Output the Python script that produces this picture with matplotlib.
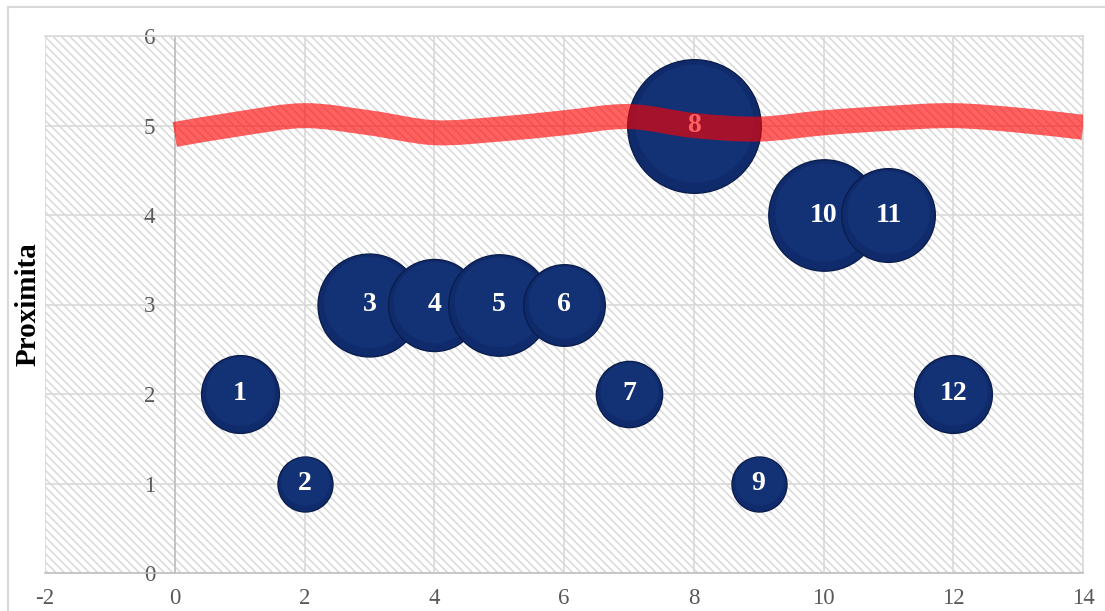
import numpy as np
import matplotlib
matplotlib.use("Agg")
import matplotlib.pyplot as plt
from matplotlib.path import Path
from matplotlib.patches import PathPatch, Rectangle
from matplotlib.lines import Line2D

# bubble data
bubble_x = [1, 2, 3, 4, 5, 6, 7, 8, 9, 10, 11, 12]
bubble_y = [2, 1, 3, 3, 3, 3, 2, 5, 1, 4, 4, 2]
bubble_size = [2.0, 1.0, 3.5, 2.8, 3.4, 2.2, 1.45, 5.9, 1.0, 4.1, 2.9, 2.0]
bubble_labels = ["1", "2", "3", "4", "5", "6", "7", "8", "9", "10", "11", "12"]

# red threshold line
line_x = [0, 1, 2, 3, 4, 5, 6, 7, 8, 9, 10, 11, 12, 13, 14]
line_y = [4.90, 5.02, 5.11, 5.03, 4.92, 4.96, 5.03, 5.10, 5.00, 4.96, 5.03, 5.08, 5.11, 5.06, 4.98]

x_ticks = [-2, 0, 2, 4, 6, 8, 10, 12, 14]
y_ticks = [0, 1, 2, 3, 4, 5, 6]

serif = ["Liberation Serif", "DejaVu Serif"]
plt.rcParams["axes.unicode_minus"] = False
plt.rcParams["hatch.linewidth"] = 1.1

fig = plt.figure(figsize=(11.05, 6.11), dpi=100)
ax = fig.add_axes([45 / 1105, 1 - 573 / 611, (1083 - 45) / 1105, (573 - 36) / 611])
ax.set_xlim(-2, 14)
ax.set_ylim(0, 6)

# hatched background
ax.add_patch(Rectangle((0, 0), 1, 1, transform=ax.transAxes, facecolor="white",
                       edgecolor="#d8d8d8", hatch="\\\\\\\\", linewidth=0, zorder=0))

ax.set_xticks(x_ticks)
ax.set_yticks(y_ticks)
ax.grid(True, color="#d9d9d9", linewidth=1.2, zorder=1)
ax.set_axisbelow(True)

for s in ["top", "right"]:
    ax.spines[s].set_color("#d9d9d9")
ax.spines["left"].set_position(("data", 0))
ax.spines["left"].set_color("#bfbfbf")
ax.spines["bottom"].set_color("#bfbfbf")
for s in ax.spines.values():
    s.set_linewidth(1.2)

ax.tick_params(axis="both", length=0, labelsize=16.5, labelcolor="#595959")
ax.tick_params(axis="y", pad=14)
ax.tick_params(axis="x", pad=11)
for lab in ax.get_xticklabels() + ax.get_yticklabels():
    lab.set_family(serif)

# bubbles
sizes = [v * 1568 for v in bubble_size]
for x, y, s, t in zip(bubble_x, bubble_y, sizes, bubble_labels):
    ax.scatter(x, y, s=s, color="#102b6c", edgecolors="#0a1d4c", linewidths=1.0, zorder=3)
    ax.scatter(x, y + 0.03, s=s * 0.78, color="#17367d", linewidths=0, alpha=0.55, zorder=3)
    ax.text(x, y, t, ha="center", va="center", color="white", fontsize=20,
            fontweight="bold", family=serif, zorder=4)

# smooth red line (catmull-rom through the points)
pts = np.column_stack([line_x, line_y])
verts = [tuple(pts[0])]
codes = [Path.MOVETO]
n = len(pts)
for i in range(n - 1):
    p0 = pts[max(i - 1, 0)]
    p1 = pts[i]
    p2 = pts[i + 1]
    p3 = pts[min(i + 2, n - 1)]
    c1 = p1 + (p2 - p0) / 6
    c2 = p2 - (p3 - p1) / 6
    verts += [tuple(c1), tuple(c2), tuple(p2)]
    codes += [Path.CURVE4] * 3
ax.add_patch(PathPatch(Path(verts, codes), fill=False, edgecolor="#ff0000", alpha=0.62,
                       linewidth=18, capstyle="butt", joinstyle="round", zorder=5))

ax.set_ylabel("Proximita", fontsize=21, fontweight="bold", family=serif, color="black")
ax.yaxis.set_label_coords(-3 / 1038, 0.5)

# outer chart frame
fig.add_artist(Line2D([8 / 1105, 8 / 1105], [0, 1 - 7 / 611], transform=fig.transFigure,
                      color="#d9d9d9", linewidth=1.5))
fig.add_artist(Line2D([8 / 1105, 1], [1 - 7 / 611, 1 - 7 / 611], transform=fig.transFigure,
                      color="#d9d9d9", linewidth=1.5))

fig.savefig("out.png", dpi=100)
